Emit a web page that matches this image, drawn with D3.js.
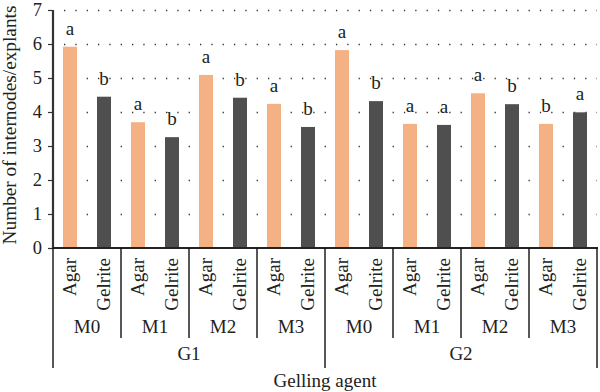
<!DOCTYPE html>
<html>
<head>
<meta charset="utf-8">
<script src="https://cdn.jsdelivr.net/npm/d3@7"></script>
<style>
  html, body { margin: 0; padding: 0; background: #fff; }
  svg { display: block; }
  text { font-family: "Liberation Serif", "Times New Roman", serif; fill: #222; }
</style>
</head>
<body>
<svg id="chart" width="600" height="392"></svg>
<script>
const groups = ["G1", "G2"];
const media = ["M0", "M1", "M2", "M3"];
const agents = ["Agar", "Gelrite"];
const values = [5.92, 4.45, 3.70, 3.26, 5.09, 4.42, 4.24, 3.56,
                5.82, 4.32, 3.65, 3.62, 4.55, 4.23, 3.65, 3.99];
const letters = ["a", "b", "a", "b", "a", "b", "a", "b",
                 "a", "b", "a", "a", "a", "b", "b", "a"];
const yTicks = [0, 1, 2, 3, 4, 5, 6, 7];
const yTitle = "Number of internodes/explants";
const xTitle = "Gelling agent";

const colors = { Agar: "#F4B183", Gelrite: "#4F4F4F" };

(function () {
const rows = [];
groups.forEach(g => media.forEach(m => agents.forEach(a => {
  const i = rows.length;
  rows.push({ key: g + "-" + m + "-" + a, g, m, a, v: values[i], l: letters[i] });
})));

const svg = d3.select("#chart");
const pL = 53, pR = 597, pT = 10, pB = 248;
const fs = 19;

const x = d3.scaleBand().domain(rows.map(d => d.key)).range([pL, pR]).padding(0);
const y = d3.scaleLinear().domain([0, 7]).range([pB, pT]);
const barW = 14;

// grid
svg.append("g").selectAll("line").data(yTicks.filter(t => t > 0)).join("line")
  .attr("x1", pL + 11).attr("x2", pR)
  .attr("y1", d => Math.round(y(d)) + 0.5).attr("y2", d => Math.round(y(d)) + 0.5)
  .attr("stroke", "#333").attr("stroke-width", 1.6)
  .attr("stroke-dasharray", "1.3 10.03")
  .attr("stroke-linecap", "butt");

// bars
svg.append("g").selectAll("rect").data(rows).join("rect")
  .attr("x", d => x(d.key) + x.bandwidth() / 2 - barW / 2)
  .attr("width", barW)
  .attr("y", d => y(d.v))
  .attr("height", d => pB - y(d.v))
  .attr("fill", d => colors[d.a]);

// letters
svg.append("g").selectAll("text").data(rows).join("text")
  .attr("x", d => x(d.key) + x.bandwidth() / 2)
  .attr("y", d => y(d.v) - 12)
  .attr("text-anchor", "middle")
  .attr("font-size", fs)
  .text(d => d.l);

// y axis
const yAxis = svg.append("g").attr("transform", `translate(${pL},0)`)
  .call(d3.axisLeft(y).tickValues(yTicks).tickSize(5).tickPadding(6).tickFormat(d3.format("d")));
yAxis.select(".domain").attr("stroke", "#333").attr("stroke-width", 2.2).attr("d", `M0,${pT}V${pB}`);
yAxis.selectAll(".tick line").attr("stroke", "#333").attr("stroke-width", 1.2);
yAxis.selectAll(".tick text").attr("font-size", 18.5).attr("font-family", "Liberation Serif").attr("fill", "#222");

// x axis baseline
svg.append("line").attr("x1", pL).attr("x2", pR + 1).attr("y1", pB).attr("y2", pB)
  .attr("stroke", "#222").attr("stroke-width", 2);

// category labels (rotated)
svg.append("g").selectAll("text").data(rows).join("text")
  .attr("transform", d => `translate(${x(d.key) + x.bandwidth() / 2 + 0.5},258) rotate(-90)`)
  .attr("dy", "0.3em")
  .attr("text-anchor", "end")
  .attr("font-size", fs)
  .text(d => d.a);

// separators
const mW = x.bandwidth() * agents.length;
const seps = d3.range(groups.length * media.length + 1);
svg.append("g").selectAll("line").data(seps).join("line")
  .attr("x1", i => pL + i * mW).attr("x2", i => pL + i * mW)
  .attr("y1", pB).attr("y2", i => i % media.length === 0 ? 368 : 338)
  .attr("stroke", "#111").attr("stroke-width", 1.4);

// media labels
const mRows = [];
groups.forEach(g => media.forEach(m => mRows.push({ g, m })));
svg.append("g").selectAll("text").data(mRows).join("text")
  .attr("x", (d, i) => pL + i * mW + mW / 2)
  .attr("y", 333)
  .attr("text-anchor", "middle")
  .attr("font-size", fs)
  .text(d => d.m);

// group labels
const gW = mW * media.length;
svg.append("g").selectAll("text").data(groups).join("text")
  .attr("x", (d, i) => pL + i * gW + gW / 2)
  .attr("y", 360)
  .attr("text-anchor", "middle")
  .attr("font-size", fs)
  .text(d => d);

// x title
svg.append("text").attr("x", (pL + pR) / 2).attr("y", 387)
  .attr("text-anchor", "middle").attr("font-size", fs).text(xTitle);

// y title
svg.append("text").attr("transform", `translate(16,125) rotate(-90)`)
  .attr("text-anchor", "middle").attr("font-size", 19.3).text(yTitle);
})();
</script>
</body>
</html>
